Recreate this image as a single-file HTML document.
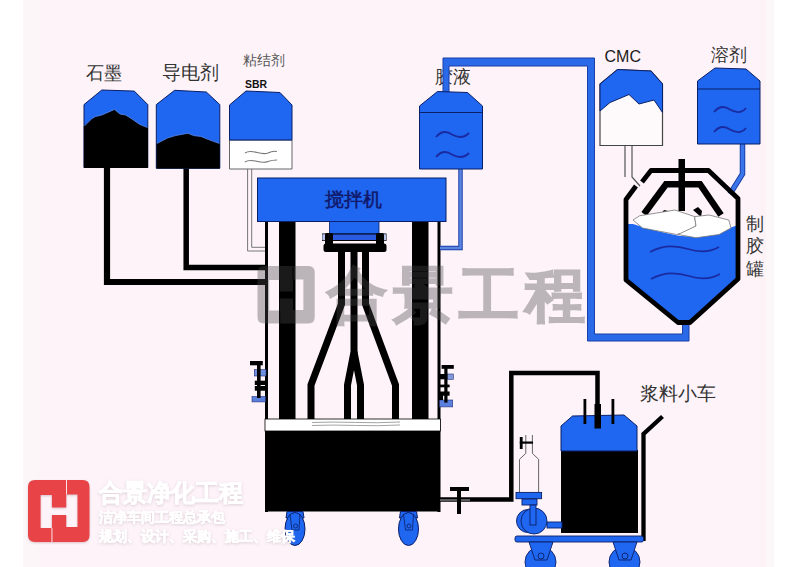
<!DOCTYPE html>
<html><head><meta charset="utf-8">
<style>
html,body{margin:0;padding:0;width:800px;height:567px;overflow:hidden;background:#fff;}
svg{display:block;position:absolute;left:0;top:0;}
text{font-family:"Liberation Sans",sans-serif;}
</style></head>
<body>
<svg width="800" height="567" viewBox="0 0 800 567">
<defs>
<filter id="sh" x="-20%" y="-20%" width="140%" height="140%"><feGaussianBlur stdDeviation="1.2"/></filter>
<filter id="tsh" x="-10%" y="-30%" width="120%" height="160%">
<feGaussianBlur in="SourceAlpha" stdDeviation="1.6"/>
<feOffset dx="0" dy="0.5" result="b"/>
<feFlood flood-color="#a08890" flood-opacity="0.35"/>
<feComposite in2="b" operator="in"/>
<feMerge><feMergeNode/><feMergeNode in="SourceGraphic"/></feMerge>
</filter>
</defs>
<!-- background -->
<rect x="23" y="0" width="751" height="567" fill="#fdf3f9"/>
<rect x="23" y="0" width="16" height="567" fill="#fcf6f8"/>
<rect x="759" y="0" width="7" height="567" fill="#fdf3f6"/>
<rect x="766" y="0" width="8" height="567" fill="#fcf7f8"/>

<!-- ============ LEFT HOPPERS ============ -->
<!-- labels -->
<g fill="#333" font-size="18">
<text x="86" y="78.5">石墨</text>
<text x="161.5" y="78.5" font-size="18.5">导电剂</text>
</g>
<text x="242.5" y="65.2" font-size="14.3" fill="#555">粘结剂</text>
<text x="245" y="88" font-size="11.5" font-weight="bold" fill="#111" textLength="22" lengthAdjust="spacingAndGlyphs">SBR</text>

<!-- pipes from hoppers -->
<g fill="none" stroke="#000" stroke-linejoin="miter">
<polyline points="107,168 107,282 266,282" stroke-width="6.2"/>
<polyline points="186.2,168 186.2,267.5 266,267.5" stroke-width="5.5"/>
</g>
<!-- SBR white pipe -->
<path d="M247.6,168.5 V251 H267 M251.7,168.5 V247.3 H267" fill="none" stroke="#777" stroke-width="1"/>

<!-- hopper 1 -->
<path d="M84,167.5 V104.6 L101.8,90 L134.3,91.1 L147.8,104.6 V167.5 Z" fill="#1f66f0" stroke="#0b1f66" stroke-width="1"/>
<path d="M83.8,168 V126 L92,118.5 L95.5,116.5 L101.8,115 L114.5,109.4 L120,114 L125.6,115 L132,119 L139.9,124.5 L148,127.6 V168 Z" fill="#000"/>
<polyline points="84.5,126 92,118.5 95.5,116.5 101.8,115 114.5,109.4 120,114 125.6,115 132,119 139.9,124.5 147.5,127.6" fill="none" stroke="#5a8af0" stroke-width="0.8"/>
<!-- hopper 2 -->
<path d="M156.3,168.3 V104.6 L174.6,90.3 L206.3,92 L219.8,104.6 V168.3 Z" fill="#1f66f0" stroke="#0b1f66" stroke-width="1"/>
<path d="M156.5,168.5 V143.5 L167.5,138 L175.4,135.6 L188,133.2 L193.6,135.6 L200.8,136.4 L208.7,139.6 L219.8,143.5 V168.5 Z" fill="#000"/>
<polyline points="157,143.5 167.5,138 175.4,135.6 188,133.2 193.6,135.6 200.8,136.4 208.7,139.6 219.3,143.5" fill="none" stroke="#5a8af0" stroke-width="0.8"/>
<!-- hopper 3 SBR -->
<path d="M229.5,169 V140 H292 V169 Z" fill="#fff" stroke="#666" stroke-width="1"/>
<path d="M229.5,140 V105 L246,91 L280,92.5 L292,105 V140 Z" fill="#1f66f0" stroke="#0b1f66" stroke-width="1"/>
<g fill="none" stroke="#777" stroke-width="1.1">
<path d="M245,153 C252,148 260,156 268,153 C272,151 275,151 277,151.5"/>
<path d="M245,162 C252,157 260,165 268,161.5 C272,160 275,160 277,160"/>
</g>

<!-- ============ MIXER ============ -->
<!-- thin side lines + body -->
<rect x="265" y="221" width="3" height="291" fill="#000"/>
<rect x="437.5" y="221" width="3" height="291" fill="#000"/>
<rect x="265" y="419" width="175.5" height="12" fill="#fff" stroke="#000" stroke-width="0.8"/>
<g fill="none" stroke="#999" stroke-width="0.9">
<path d="M312,422.5 C340,421 370,424 400,422"/>
<path d="M312,425.5 C340,424 370,427 400,425"/>
</g>
<rect x="265" y="431" width="174.5" height="80.5" fill="#000"/>
<!-- posts -->
<rect x="279" y="221" width="16.5" height="198" fill="#000"/>
<rect x="412" y="221" width="16.5" height="198" fill="#000"/>
<!-- shafts -->
<g fill="none" stroke="#000" stroke-width="7" stroke-linejoin="miter">
<polyline points="341.5,251 341.5,304 311,385 311,419"/>
<polyline points="365.5,251 365.5,304 395.5,385 395.5,419"/>
<polyline points="354,251 354,352 347.5,385 347.5,419"/>
<polyline points="354,352 360.5,385 360.5,419"/>
</g>
<!-- top block -->
<rect x="257.5" y="178" width="188.5" height="43.5" fill="#1f66f0" stroke="#0b1f66" stroke-width="1"/>
<text x="325" y="205.5" font-size="19" fill="#10186a" stroke="#10186a" stroke-width="0.5">搅拌机</text>
<rect x="329.5" y="221.5" width="49.5" height="12.5" fill="#1f66f0" stroke="#0b1f66" stroke-width="0.8"/>
<rect x="322.5" y="234" width="63.5" height="6.5" fill="#2a5be0" stroke="#000" stroke-width="1"/>
<rect x="322.3" y="234.3" width="3.5" height="6" fill="#b8c0ec"/>
<rect x="382.5" y="234.3" width="3.5" height="6" fill="#b8c0ec"/>
<rect x="323.5" y="243.5" width="63" height="8.5" rx="2.5" fill="#000"/>
<rect x="325" y="233" width="8" height="18" rx="1.5" fill="#000"/>
<rect x="376" y="233" width="8" height="18" rx="1.5" fill="#000"/>

<!-- side bolts -->
<g fill="#000">
<rect x="254.3" y="369.6" width="11.7" height="6.4" fill="#6f8fe0" stroke="#23307a" stroke-width="0.6"/>
<rect x="252" y="396.5" width="13.4" height="5.4" fill="#5a7fdc" stroke="#23307a" stroke-width="0.6"/>
<rect x="250" y="361" width="12.8" height="4.3"/>
<rect x="257" y="361" width="3.6" height="37"/>
<rect x="254.8" y="380.7" width="11.2" height="4.3"/>
<rect x="254.8" y="386" width="11.2" height="4.7"/>
</g>
<g fill="#000">
<rect x="447.5" y="374" width="5.8" height="5.3" fill="#8298d8" stroke="#23307a" stroke-width="0.6"/>
<rect x="439.5" y="400" width="13.2" height="6.9" fill="#5a7fdc" stroke="#23307a" stroke-width="0.6"/>
<rect x="441.6" y="365" width="12.2" height="3.8"/>
<rect x="444.3" y="365" width="3.2" height="37.6"/>
<rect x="438.5" y="384.6" width="11.1" height="2.7"/>
<rect x="438.5" y="391.5" width="11.1" height="4.2"/>
<rect x="439" y="374" width="6" height="5.3"/>
<rect x="439" y="395" width="4" height="5"/>
</g>

<!-- wheels -->
<g fill="#1f66f0" stroke="#0b1f66" stroke-width="1">
<path d="M287,511.5 H303 L304,518 H286 Z"/>
<ellipse cx="295" cy="529" rx="10" ry="16.5"/>
<path d="M400.5,511.5 H416.5 L417.5,518 H399.5 Z"/>
<ellipse cx="408.5" cy="529" rx="10" ry="16.5"/>
</g>
<g fill="none" stroke="#0b1f66" stroke-width="0.8">
<path d="M290,514 L292,530 H299 L300,514"/>
<circle cx="295.6" cy="526" r="2"/>
<path d="M403.5,514 L405.5,530 H412.5 L413.5,514"/>
<circle cx="409" cy="526" r="2"/>
</g>




<!-- ============ GLUE TANK 胶液 ============ -->
<text x="435" y="83" font-size="18" fill="#333">胶液</text>
<!-- big blue pipe -->
<path d="M443,92 V58 H594.5 V334 H682.5 V322 H689 V341 H587.5 V66 H449 V92 Z" fill="#2a6ae8" stroke="#1a3fa8" stroke-width="1"/>
<!-- thin blue pipe to mixer -->
<polyline points="460.5,169 460.5,248 440,248" fill="none" stroke="#1a3fa8" stroke-width="4.5"/>
<polyline points="460.5,169 460.5,248 440,248" fill="none" stroke="#5a84e0" stroke-width="2.5"/>
<path d="M419.5,169 V106 L437.5,91.5 L467.5,92.5 L482.5,106 V169 Z" fill="#1f66f0" stroke="#0b1f66" stroke-width="1"/>
<line x1="419.5" y1="112.5" x2="482.5" y2="112.5" stroke="#0b1f66" stroke-width="1"/>
<g fill="none" stroke="#1a2aa0" stroke-width="1.8">
<path d="M436,137 C441,131 447,131 452,134.5 C458,138 464,138 469,133"/>
<path d="M436,157 C441,151 447,151 452,154.5 C458,158 464,158 469,153"/>
</g>

<!-- ============ CMC ============ -->
<text x="604.5" y="61.5" font-size="16" fill="#1a1a1a">CMC</text>
<path d="M625,145.5 V177 M632,145.5 V177 L640,186" fill="none" stroke="#555" stroke-width="1.2"/>
<path d="M600,145.5 V84 L617.5,69.5 L651,71 L662.5,84 V145.5 Z" fill="#fef9fb" stroke="#444" stroke-width="1.2"/>
<path d="M600,111 V84 L617.5,69.5 L651,71 L662.5,84 V112.5 L654,100 L639,104 L629,94.5 L610,102.5 Z" fill="#1f66f0" stroke="#0b1f66" stroke-width="1"/>

<!-- ============ SOLVENT 溶剂 ============ -->
<text x="711" y="60.5" font-size="18" fill="#333">溶剂</text>
<polyline points="742.5,144 742.5,174 730,194" fill="none" stroke="#1a3fa8" stroke-width="5.5"/>
<polyline points="742.5,144 742.5,174 730,194" fill="none" stroke="#3a75ea" stroke-width="3.5"/>
<path d="M697.5,144 V81 L715,68 L746,69 L760,81 V144 Z" fill="#1f66f0" stroke="#0b1f66" stroke-width="1"/>
<line x1="697.5" y1="89" x2="760" y2="89" stroke="#0b1f66" stroke-width="1"/>
<g fill="none" stroke="#1a2aa0" stroke-width="1.8">
<path d="M714,112 C719,106 725,106 730,109.5 C736,113 742,113 746,108"/>
<path d="M714,132 C719,126 725,126 730,129.5 C736,133 742,133 746,128"/>
</g>

<!-- ============ GLUE MAKING TANK 制胶罐 ============ -->
<g fill="#333" font-size="18">
<text x="746" y="230">制</text>
<text x="746" y="252">胶</text>
<text x="746" y="274.5">罐</text>
</g>
<!-- liquid -->
<path d="M626,224 L633,224 C645,228 660,232 680,236 C700,237 720,232 738,225 V279 L690,321 H678 L626,280 Z" fill="#1f66f0"/>
<!-- agitator -->
<rect x="678.5" y="159" width="6.5" height="52" fill="#000"/>
<polyline points="644,214 666,184.2 700,184.2 721,215" fill="none" stroke="#000" stroke-width="6.5" stroke-linejoin="miter"/>
<path d="M661,214 l3,-4 l4,1 l2,4 Z M693,210 l5,-3 l4,4 l-1,6 Z" fill="#000"/>
<!-- foam -->
<path d="M633,220 L639.5,215.8 L675,210 L694.6,216.6 L696,226 L683,233 L676.7,234.5 L642.6,228 Z" fill="#fff" stroke="#777" stroke-width="0.8"/>
<path d="M694.6,216.6 L709,215 L728.75,220 L731,228 L719,234.5 L696,237.75 L678,234.5 L696,226 Z" fill="#fff" stroke="#777" stroke-width="0.8"/>
<g fill="none" stroke="#1a2aa0" stroke-width="1.8">
<path d="M650,252 C662,245 675,245 688,249 C700,253 710,252 719,247"/>
<path d="M651,279 C663,272 676,272 689,276 C701,280 711,279 720,274"/>
</g>
<!-- outline -->
<path d="M636,186 L626,199.5 V280 L678,322.5 H690 L738,279 V198.5 L708.5,170.5 H651 L642,182" fill="none" stroke="#000" stroke-width="4.8" stroke-linejoin="round"/>

<!-- ============ CART ============ -->
<text x="640" y="399.5" font-size="18.5" fill="#333">浆料小车</text>
<!-- pipe from mixer to cart -->
<polyline points="439,499.4 511.3,499.4 511.3,373 597.5,373 597.5,404" fill="none" stroke="#000" stroke-width="4.5" stroke-linejoin="miter"/>
<line x1="440" y1="500" x2="470" y2="500" stroke="#ccc" stroke-width="0.9"/>
<!-- valve -->
<rect x="450" y="487" width="19" height="4" fill="#000"/>
<rect x="457" y="487" width="4" height="27" fill="#000"/>
<!-- handle -->
<polyline points="643.5,541 643.5,434 662.5,416.5" fill="none" stroke="#000" stroke-width="4.3" stroke-linejoin="miter"/>
<!-- tank -->
<rect x="561" y="450" width="77" height="83" fill="#000"/>
<path d="M561,451 V426 L572.5,416 L624,415 L637,426 V451 Z" fill="#1f66f0" stroke="#0b1f66" stroke-width="1"/>
<rect x="583.5" y="399" width="2.8" height="25" fill="#000"/>
<rect x="611.5" y="399" width="2.8" height="25" fill="#000"/>
<rect x="594.5" y="404" width="6.5" height="24.5" fill="#000"/>
<!-- bottle -->
<path d="M519.5,492.4 V459.3 L525.8,453.4 V435 M532.4,435 V453.4 L538.6,459.3 V492.4" fill="none" stroke="#666" stroke-width="1"/>
<rect x="519.8" y="437" width="2.8" height="12" fill="#000"/>
<rect x="519.8" y="441.5" width="13.2" height="2.2" fill="#000"/>
<g fill="#1f66f0" stroke="#0b1f66" stroke-width="0.9">
<rect x="516" y="492.4" width="25.6" height="6.3"/>
<rect x="522" y="499" width="15" height="6"/>
<rect x="547" y="522" width="15" height="6"/>
<circle cx="528" cy="521" r="11.5"/>
<circle cx="534" cy="521" r="13"/>
<rect x="530" y="505" width="6" height="20"/>
<rect x="515" y="536" width="128.5" height="6" rx="2"/>
<circle cx="540.5" cy="562" r="15.5"/>
<path d="M529,542 H553 L547,560 H535 Z"/>
<circle cx="541" cy="556" r="3"/>
<circle cx="624.5" cy="562" r="15.5"/>
<path d="M613,542 H637 L631,560 H619 Z"/>
<circle cx="625" cy="556" r="3"/>
</g>

<g opacity="0.36">
<!-- watermark -->
<path fill-rule="evenodd" fill="#494949" d="M264,266 H308.5 Q314.7,266 314.7,272.5 V317 Q314.7,323.5 308.5,323.5 H264 Q257.5,323.5 257.5,317 V272.5 Q257.5,266 264,266 Z M269.2,280 V310.6 H279.7 V298.6 H293 V310 H303.4 V279.5 H293 V291.6 H279.7 V280 Z M292.6,266.5 h0.9 v13 h-0.9 Z M279.3,310.6 h0.9 v12.5 h-0.9 Z"/>
<text x="326.5" y="316" font-size="59.5" font-weight="bold" fill="#494949" stroke="#494949" stroke-width="1.6" letter-spacing="6">合景工程</text>

</g>
<!-- ============ LOGO (bottom-left) ============ -->
<g filter="url(#sh)" opacity="0.3">
<path fill-rule="evenodd" fill="#905060" d="M35,481 H83 Q89.5,481 89.5,488 V536 Q89.5,543 83,543 H35 Q28,543 28,536 V488 Q28,481 35,481 Z M40.6,496 V529 H51.9 V516 H66.25 V528 H77.5 V495.4 H66.25 V508.5 H51.9 V496 Z"/>
</g>
<path fill-rule="evenodd" fill="#e84448" d="M35,480 H83 Q89.5,480 89.5,487 V535 Q89.5,542 83,542 H35 Q28,542 28,535 V487 Q28,480 35,480 Z M40.6,495 V528 H51.9 V515 H66.25 V527 H77.5 V494.4 H66.25 V507.5 H51.9 V495 Z"/>
<rect x="66" y="480" width="0.9" height="14.5" fill="#fdf4f8"/>
<rect x="51.5" y="528" width="0.9" height="14" fill="#fdf4f8"/>
<g filter="url(#tsh)">
<g fill="#ffffff" font-weight="bold" stroke="#ffffff" stroke-width="0.5">
<text x="98.5" y="500.5" font-size="23.5" stroke-width="0.9">合景净化工程</text>
<text x="98.5" y="521.5" font-size="14">洁净车间工程总承包</text>
<text x="98.5" y="541" font-size="14">规划、设计、采购、施工、维保</text>
</g></g>

</svg>
</body></html>
